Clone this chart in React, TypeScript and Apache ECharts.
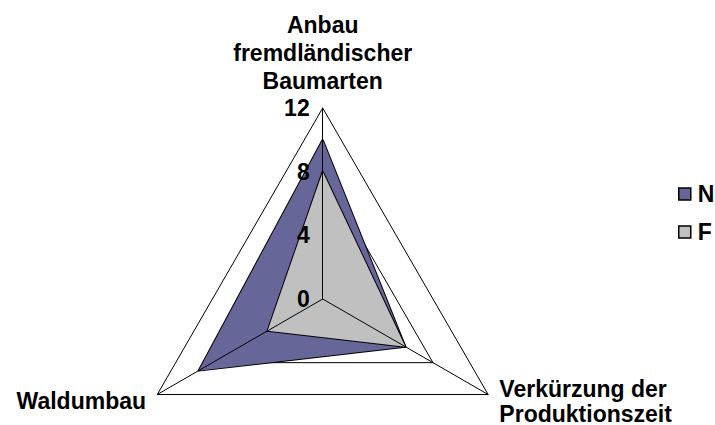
import React, { useEffect, useRef } from 'react';
import * as echarts from 'echarts';

const indicatorNames = ['Anbau\nfremdländischer\nBaumarten', 'Waldumbau', 'Verkürzung der\nProduktionszeit'];
const axisMin = 0;
const axisMax = 12;
const axisSplits = 3;
const seriesNames = ['N', 'F'];
const valuesN = [10, 9, 6];
const valuesF = [8, 4, 6];

const FONT = '"Liberation Sans", Arial, Helvetica, sans-serif';
const COLOR_N = '#666699';
const COLOR_F = '#C0C0C0';

export default function App() {
  const ref = useRef<HTMLDivElement>(null);
  useEffect(() => {
    if (!ref.current) return;
    const chart = echarts.init(ref.current, null, { renderer: 'svg' });
    const center = [322.7, 299];
    const radius = 191;
    const indicators = indicatorNames.map((n) => ({ name: n, min: axisMin, max: axisMax }));
    const fills = [COLOR_N, COLOR_F];
    const values = [valuesN, valuesF];
    chart.setOption({
      animation: false,
      backgroundColor: '#ffffff',
      textStyle: { fontFamily: FONT },
      legend: {
        orient: 'vertical',
        left: 678,
        top: 182,
        padding: 0,
        itemWidth: 12,
        itemHeight: 12,
        itemGap: 14,
        icon: 'rect',
        textStyle: { fontSize: 23, fontWeight: 'bold', color: '#000', fontFamily: FONT, lineHeight: 24, padding: [0, 0, 0, 2] },
        data: seriesNames.map((n, i) => ({
          name: n,
          itemStyle: { color: fills[i], borderColor: '#000', borderWidth: 1.5 },
        })),
      },
      radar: [
        {
          center,
          radius,
          startAngle: 90,
          shape: 'polygon',
          splitNumber: axisSplits,
          indicator: indicators.map((ind, i) =>
            i === 2 ? { ...ind, nameTextStyle: { lineHeight: 25 } } : ind
          ),
          nameGap: 13,
          axisName: { color: '#000', fontSize: 23, fontWeight: 'bold', fontFamily: FONT, lineHeight: 28 },
          splitLine: { lineStyle: { color: '#000', width: 1 } },
          splitArea: { show: false },
          axisLine: { show: false },
          axisTick: { show: false },
          axisLabel: { show: false },
        },
        {
          center,
          radius,
          startAngle: 90,
          shape: 'polygon',
          splitNumber: axisSplits,
          z: 5,
          indicator: indicators.map((ind, i) => (i === 0 ? { ...ind, axisLabel: { show: true } } : ind)),
          axisName: { show: false },
          splitLine: { show: false },
          splitArea: { show: false },
          axisLine: { show: true, lineStyle: { color: '#000', width: 1 } },
          axisTick: { show: false },
          axisLabel: { show: false, fontSize: 23, fontWeight: 'bold', color: '#000', fontFamily: FONT, margin: 13 },
        },
      ],
      series: [
        {
          type: 'radar',
          radarIndex: 0,
          symbol: 'none',
          data: seriesNames.map((n, i) => ({
            name: n,
            value: values[i],
            itemStyle: { color: fills[i] },
            lineStyle: { color: '#000', width: 2 },
            areaStyle: { color: fills[i], opacity: 1 },
          })),
        },
      ],
    });
    return () => chart.dispose();
  }, []);
  return (
    <div
      ref={ref}
      style={{ position: 'absolute', left: 0, top: 0, width: 715, height: 425, background: '#fff' }}
    />
  );
}
